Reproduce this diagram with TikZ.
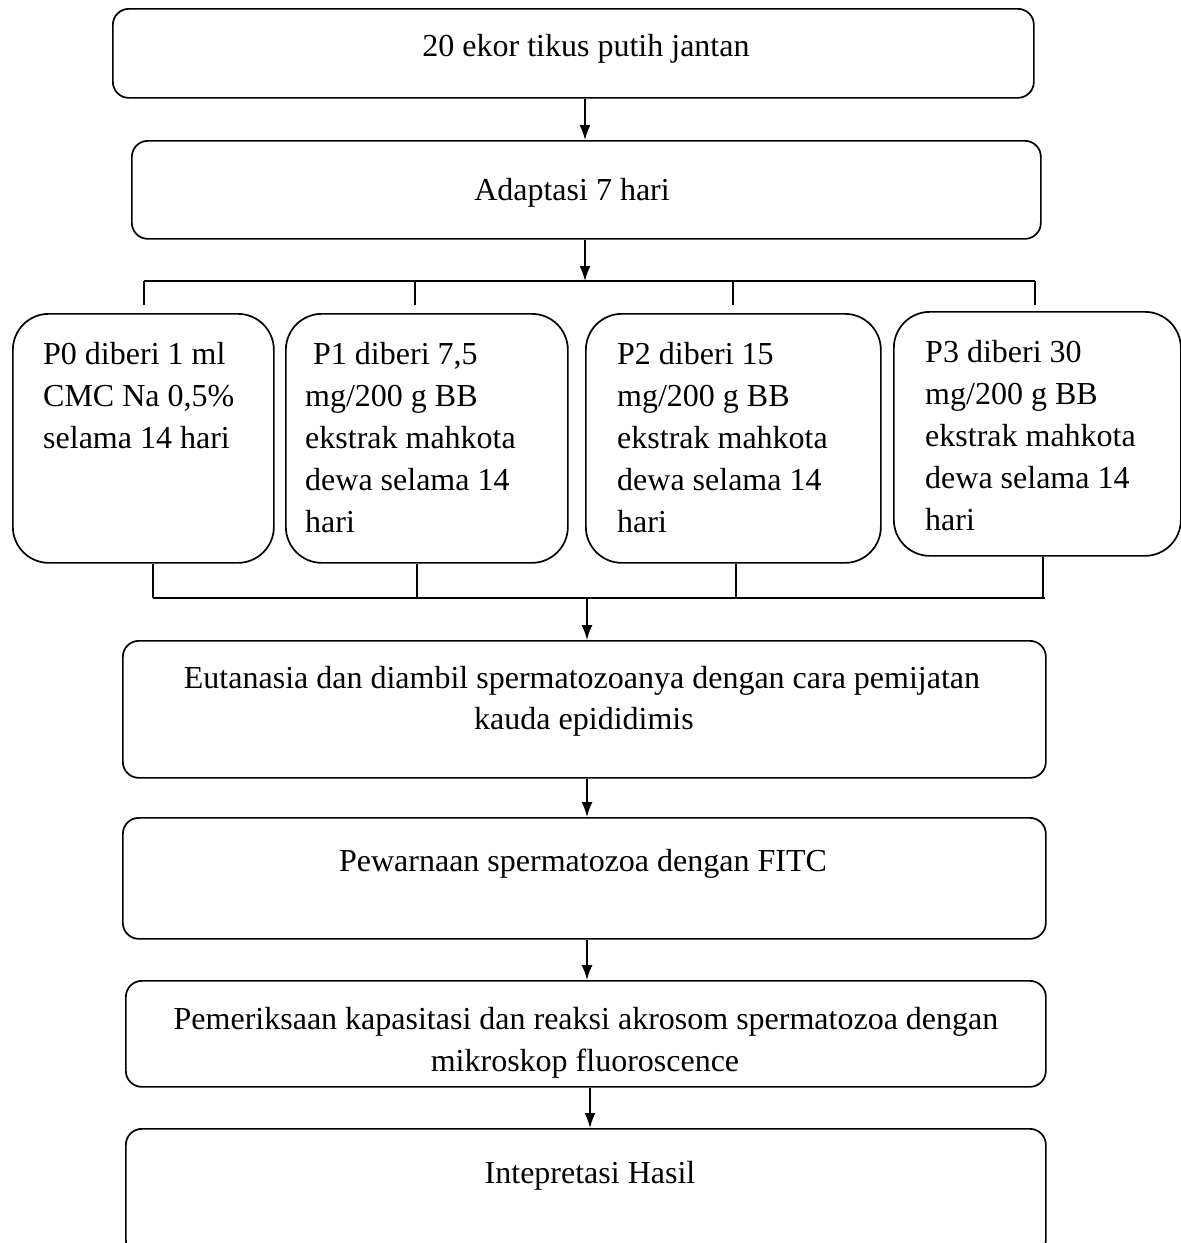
\documentclass[tikz,border=0pt]{standalone}
\usepackage{fontspec}
\setmainfont{Liberation Serif}
\usetikzlibrary{arrows.meta}
\newcommand{\fsz}{\fontsize{32}{42}\selectfont}
\begin{document}
\begin{tikzpicture}[x=1pt,y=-1pt]
\tikzset{
 box/.style={draw, line width=1.7pt, rounded corners=16pt, inner sep=0pt, anchor=north west},
 pbox/.style={draw, line width=1.7pt, rounded corners=36pt, inner sep=0pt, anchor=north west},
 txt/.style={font=\fsz, inner sep=0pt, align=center, anchor=base},
 ptxt/.style={font=\fsz, inner sep=0pt, align=left, anchor=base west},
 ln/.style={line width=1.5pt},
 arr/.style={line width=1.5pt, -{Latex[length=15pt,width=11pt]}},
}
\path[use as bounding box] (0,0) rectangle (1181,1243);

% main boxes
\node[box, minimum width=921pt, minimum height=89pt] (b1) at (112,8) {};
\node[box, minimum width=909pt, minimum height=98pt] (b2) at (131,140) {};
\node[box, minimum width=923pt, minimum height=137pt] (b3) at (122,640) {};
\node[box, minimum width=923pt, minimum height=121pt] (b4) at (122,817) {};
\node[box, minimum width=920pt, minimum height=106pt] (b5) at (125,980) {};
\node[box, minimum width=920pt, minimum height=127pt] (b6) at (125,1128) {};

% treatment boxes
\node[pbox, minimum width=261pt, minimum height=249pt] (p0) at (12,313) {};
\node[pbox, minimum width=282pt, minimum height=249pt] (p1) at (285,313) {};
\node[pbox, minimum width=295pt, minimum height=249pt] (p2) at (585,313) {};
\node[pbox, minimum width=287pt, minimum height=244pt] (p3) at (893,311) {};

% texts
\node[txt] (t1) at (586,56) {20 ekor tikus putih jantan};
\node[txt] (t2) at (572,200) {Adaptasi 7 hari};
\node[txt] (t3a) at (582,688) {Eutanasia dan diambil spermatozoanya dengan cara pemijatan};
\node[txt] (t3b) at (584,729) {kauda epididimis};
\node[txt] (t4) at (583,871) {Pewarnaan spermatozoa dengan FITC};
\node[txt] (t5a) at (586,1029) {Pemeriksaan kapasitasi dan reaksi akrosom spermatozoa dengan};
\node[txt] (t5b) at (585,1071) {mikroskop fluoroscence};
\node[txt] (t6) at (590,1183) {Intepretasi Hasil};

% anchor base west = baseline of the last line
\node[ptxt] (tp0) at (43,448) {P0 diberi 1 ml\\CMC Na 0,5\%\\selama 14 hari};
\node[ptxt] (tp1) at (305,532) {\ P1 diberi 7,5\\mg/200 g BB\\ekstrak mahkota\\dewa selama 14\\hari};
\node[ptxt] (tp2) at (617,532) {P2 diberi 15\\mg/200 g BB\\ekstrak mahkota\\dewa selama 14\\hari};
\node[ptxt] (tp3) at (925,530) {P3 diberi 30\\mg/200 g BB\\ekstrak mahkota\\dewa selama 14\\hari};

% helper coordinates
\coordinate (ax) at (585,0);
\coordinate (bx) at (587,0);
\coordinate (cx) at (590,0);
\coordinate (busT) at (0,281);
\coordinate (tickT) at (0,305);
\coordinate (busB) at (0,598);
\coordinate (q0) at (144,0);
\coordinate (q1) at (415,0);
\coordinate (q2) at (733,0);
\coordinate (q3) at (1035,0);
\coordinate (r0) at (153,0);
\coordinate (r1) at (417,0);
\coordinate (r2) at (736,0);
\coordinate (r3) at (1043,0);
\coordinate (rE) at (1045,0);

% arrows
\draw[arr] (b1.south -| ax) -- (b2.north -| ax);
\draw[arr] (b2.south -| ax) -- (ax |- busT);
\draw[ln] (q0 |- busT) -- (q3 |- busT);
\foreach \q in {q0,q1,q2,q3} \draw[ln] (\q |- busT) -- (\q |- tickT);

\draw[ln] (r0 |- p0.south) -- (r0 |- busB);
\draw[ln] (r1 |- p1.south) -- (r1 |- busB);
\draw[ln] (r2 |- p2.south) -- (r2 |- busB);
\draw[ln] (r3 |- p3.south) -- (r3 |- busB);
\draw[ln] (r0 |- busB) -- (rE |- busB);

\draw[arr] (bx |- busB) -- (b3.north -| bx);
\draw[arr] (b3.south -| bx) -- (b4.north -| bx);
\draw[arr] (b4.south -| bx) -- (b5.north -| bx);
\draw[arr] (b5.south -| cx) -- (b6.north -| cx);
\end{tikzpicture}
\end{document}
